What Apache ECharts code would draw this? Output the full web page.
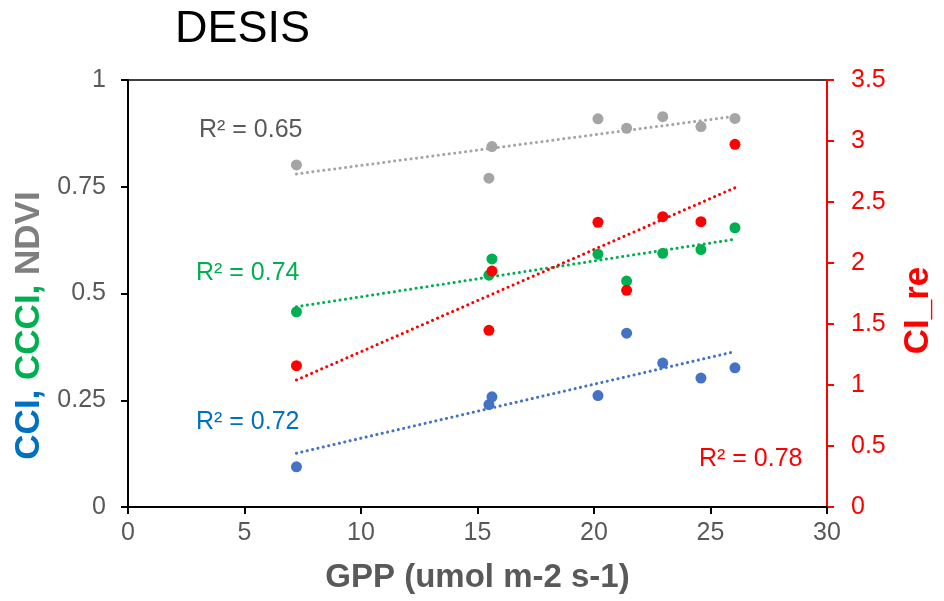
<!DOCTYPE html>
<html>
<head>
<meta charset="utf-8">
<script src="https://cdn.jsdelivr.net/npm/echarts@6/dist/echarts.min.js"></script>
<style>
  html, body { margin: 0; padding: 0; background: #fff; }
  #chart { width: 944px; height: 601px; }
</style>
</head>
<body>
<div id="chart"></div>
<script>
// GPP of each site (x)
const gpp = [7.23, 15.49, 15.62, 20.17, 21.40, 22.95, 24.59, 26.05];
const ndvi = [0.801, 0.770, 0.844, 0.909, 0.887, 0.914, 0.891, 0.910];
const ccci = [0.457, 0.543, 0.581, 0.592, 0.529, 0.594, 0.603, 0.654];
const cci = [0.094, 0.240, 0.258, 0.261, 0.407, 0.337, 0.302, 0.326];
const cire = [1.158, 1.448, 1.934, 2.334, 1.776, 2.380, 2.339, 2.973];

// trendline end points
const trendX = [7.23, 26.05];
const ndviTrend = [0.780, 0.915];
const ccciTrend = [0.469, 0.627];
const cciTrend = [0.126, 0.364];
const cireTrend = [1.041, 2.617];

const xTicks = { min: 0, max: 30, interval: 5 };
const leftTicks = { min: 0, max: 1, interval: 0.25 };
const rightTicks = { min: 0, max: 3.5, interval: 0.5 };

const FONT = 'Liberation Sans, Arial, sans-serif';

function pairs(xs, ys) {
  return xs.map((x, i) => [x, ys[i]]);
}

function scatter(name, ys, color, yAxisIndex) {
  return {
    name: name,
    type: 'scatter',
    yAxisIndex: yAxisIndex,
    symbolSize: 11,
    itemStyle: { color: color, opacity: 1 },
    data: pairs(gpp, ys),
    z: 3
  };
}

function trend(name, ys, color, yAxisIndex) {
  return {
    name: name,
    type: 'line',
    yAxisIndex: yAxisIndex,
    symbol: 'none',
    lineStyle: { color: color, width: 3, type: [0.1, 5.4], cap: 'round' },
    data: pairs(trendX, ys),
    z: 2
  };
}

const chart = echarts.init(document.getElementById('chart'));

const option = {
  backgroundColor: '#fff',
  animation: false,
  title: {
    text: 'DESIS',
    left: 170,
    top: 2,
    textStyle: { fontFamily: FONT, fontSize: 45, fontWeight: 'normal', color: '#000' }
  },
  grid: {
    left: 128,
    right: 114,
    top: 80,
    bottom: 94,
    show: true,
    borderColor: '#000',
    borderWidth: 1.5
  },
  xAxis: {
    type: 'value',
    min: xTicks.min,
    max: xTicks.max,
    interval: xTicks.interval,
    name: 'GPP (umol m-2 s-1)',
    nameLocation: 'middle',
    nameGap: 54,
    nameTextStyle: { fontFamily: FONT, fontSize: 33, fontWeight: 'bold', color: '#595959' },
    axisLine: { show: true, onZero: false, lineStyle: { color: '#000', width: 2 } },
    axisTick: { show: true, inside: false, length: 7, lineStyle: { color: '#000', width: 2 } },
    axisLabel: { fontFamily: FONT, fontSize: 25, color: '#595959', margin: 14 },
    splitLine: { show: false }
  },
  yAxis: [
    {
      type: 'value',
      position: 'left',
      min: leftTicks.min,
      max: leftTicks.max,
      interval: leftTicks.interval,
      name: '{b|CCI,} {g|CCCI,} {k|NDVI}',
      nameLocation: 'middle',
      nameRotate: 90,
      nameGap: 80,
      nameTextStyle: {
        fontFamily: FONT,
        fontSize: 35,
        fontWeight: 'bold',
        padding: [0, 64, 0, 0],
        rich: {
          b: { color: '#0070C0', fontFamily: FONT, fontSize: 35, fontWeight: 'bold' },
          g: { color: '#00B050', fontFamily: FONT, fontSize: 35, fontWeight: 'bold' },
          k: { color: '#7F7F7F', fontFamily: FONT, fontSize: 35, fontWeight: 'bold' }
        }
      },
      axisLine: { show: true, onZero: false, lineStyle: { color: '#000', width: 2 } },
      axisTick: { show: true, inside: false, length: 7, lineStyle: { color: '#000', width: 2 } },
      axisLabel: { fontFamily: FONT, fontSize: 25, color: '#595959', margin: 22 },
      splitLine: { show: false }
    },
    {
      type: 'value',
      position: 'right',
      min: rightTicks.min,
      max: rightTicks.max,
      interval: rightTicks.interval,
      name: 'CI_re',
      nameLocation: 'middle',
      nameRotate: 90,
      nameGap: 74,
      nameTextStyle: { fontFamily: FONT, fontSize: 35, fontWeight: 'bold', color: '#FF0000', padding: [0, 34, 0, 0] },
      axisLine: { show: true, onZero: false, lineStyle: { color: '#FF0000', width: 2 } },
      axisTick: { show: true, inside: false, length: 7, lineStyle: { color: '#FF0000', width: 2 } },
      axisLabel: { fontFamily: FONT, fontSize: 25, color: '#FF0000', margin: 24 },
      splitLine: { show: false }
    }
  ],
  graphic: [
    { type: 'text', left: 199, top: 118, style: { text: 'R² = 0.65', fill: '#595959', font: '25px ' + FONT } },
    { type: 'text', left: 196, top: 261, style: { text: 'R² = 0.74', fill: '#00B050', font: '25px ' + FONT } },
    { type: 'text', left: 196, top: 410, style: { text: 'R² = 0.72', fill: '#0070C0', font: '25px ' + FONT } },
    { type: 'text', left: 699, top: 447, style: { text: 'R² = 0.78', fill: '#FF0000', font: '25px ' + FONT } }
  ],
  series: [
    trend('NDVI trend', ndviTrend, '#A5A5A5', 0),
    trend('CCCI trend', ccciTrend, '#00B050', 0),
    trend('CCI trend', cciTrend, '#4472C4', 0),
    trend('CI_re trend', cireTrend, '#FF0000', 1),
    scatter('NDVI', ndvi, '#A5A5A5', 0),
    scatter('CCCI', ccci, '#00B050', 0),
    scatter('CCI', cci, '#4472C4', 0),
    scatter('CI_re', cire, '#FF0000', 1)
  ]
};

chart.setOption(option);
</script>
</body>
</html>
